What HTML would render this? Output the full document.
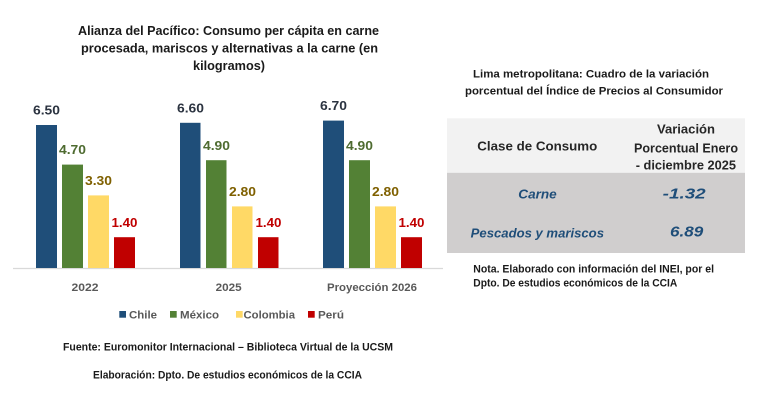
<!DOCTYPE html>
<html><head><meta charset="utf-8"><style>
html,body{margin:0;padding:0;background:#fff;}
svg{display:block;}
text{font-family:"Liberation Sans",sans-serif;font-weight:bold;}
</style></head><body>
<svg width="758" height="409" viewBox="0 0 758 409" xmlns="http://www.w3.org/2000/svg">
<rect width="758" height="409" fill="#fff"/>
<!-- Chart title -->
<g fill="#1a1a1a" font-size="13">
<text x="78" y="35" textLength="301" lengthAdjust="spacingAndGlyphs">Alianza del Pacífico: Consumo per cápita en carne</text>
<text x="81" y="52.5" textLength="297" lengthAdjust="spacingAndGlyphs">procesada, mariscos  y alternativas a la carne (en</text>
<text x="193" y="70" textLength="72" lengthAdjust="spacingAndGlyphs">kilogramos)</text>
</g>
<!-- axis -->
<line x1="13" y1="268.5" x2="443" y2="268.5" stroke="#D9D9D9" stroke-width="1.2"/>
<!-- bars group 1 -->
<rect x="36" y="125" width="21" height="143" fill="#1F4E79"/>
<rect x="62" y="164.6" width="21" height="103.4" fill="#538135"/>
<rect x="88" y="195.4" width="21" height="72.6" fill="#FFD966"/>
<rect x="114" y="237.2" width="21" height="30.8" fill="#C00000"/>
<!-- group 2 -->
<rect x="180" y="122.8" width="20.5" height="145.2" fill="#1F4E79"/>
<rect x="206" y="160.2" width="20.5" height="107.8" fill="#538135"/>
<rect x="232" y="206.4" width="20.5" height="61.6" fill="#FFD966"/>
<rect x="258" y="237.2" width="20.5" height="30.8" fill="#C00000"/>
<!-- group 3 -->
<rect x="323" y="120.6" width="21" height="147.4" fill="#1F4E79"/>
<rect x="349" y="160.2" width="21" height="107.8" fill="#538135"/>
<rect x="375" y="206.4" width="21" height="61.6" fill="#FFD966"/>
<rect x="401" y="237.2" width="21" height="30.8" fill="#C00000"/>
<!-- value labels -->
<g font-size="12.5" text-anchor="middle">
<text x="46.5" y="114.5" fill="#2B3340" textLength="27" lengthAdjust="spacingAndGlyphs">6.50</text>
<text x="72.5" y="154.2" fill="#4E6B30" textLength="27" lengthAdjust="spacingAndGlyphs">4.70</text>
<text x="98.5" y="185" fill="#7F6000" textLength="27" lengthAdjust="spacingAndGlyphs">3.30</text>
<text x="124.5" y="226.8" fill="#C00000" textLength="26" lengthAdjust="spacingAndGlyphs">1.40</text>

<text x="190.5" y="112.3" fill="#2B3340" textLength="27" lengthAdjust="spacingAndGlyphs">6.60</text>
<text x="216.5" y="149.8" fill="#4E6B30" textLength="27" lengthAdjust="spacingAndGlyphs">4.90</text>
<text x="242.5" y="196" fill="#7F6000" textLength="27" lengthAdjust="spacingAndGlyphs">2.80</text>
<text x="268.5" y="226.8" fill="#C00000" textLength="26" lengthAdjust="spacingAndGlyphs">1.40</text>

<text x="333.5" y="110.1" fill="#2B3340" textLength="27" lengthAdjust="spacingAndGlyphs">6.70</text>
<text x="359.5" y="149.8" fill="#4E6B30" textLength="27" lengthAdjust="spacingAndGlyphs">4.90</text>
<text x="385.5" y="196" fill="#7F6000" textLength="27" lengthAdjust="spacingAndGlyphs">2.80</text>
<text x="411.5" y="226.8" fill="#C00000" textLength="26" lengthAdjust="spacingAndGlyphs">1.40</text>
</g>
<!-- categories -->
<g font-size="11" fill="#595959" text-anchor="middle">
<text x="85" y="291" textLength="27" lengthAdjust="spacingAndGlyphs">2022</text>
<text x="228.7" y="291" textLength="26" lengthAdjust="spacingAndGlyphs">2025</text>
<text x="372" y="291" textLength="90" lengthAdjust="spacingAndGlyphs">Proyección 2026</text>
</g>
<!-- legend -->
<rect x="119.3" y="311" width="6.7" height="6.7" fill="#1F4E79"/>
<rect x="170" y="311" width="6.7" height="6.7" fill="#538135"/>
<rect x="236" y="311" width="6.7" height="6.7" fill="#FFD966"/>
<rect x="308" y="311" width="6.7" height="6.7" fill="#C00000"/>
<g font-size="11" fill="#595959">
<text x="129" y="318.5" textLength="28" lengthAdjust="spacingAndGlyphs">Chile</text>
<text x="180" y="318.5" textLength="39" lengthAdjust="spacingAndGlyphs">México</text>
<text x="243.5" y="318.5" textLength="51.5" lengthAdjust="spacingAndGlyphs">Colombia</text>
<text x="318" y="318.5" textLength="26" lengthAdjust="spacingAndGlyphs">Perú</text>
</g>
<!-- footnotes -->
<g font-size="11" fill="#1a1a1a">
<text x="63" y="350.7" textLength="330" lengthAdjust="spacingAndGlyphs">Fuente: Euromonitor Internacional – Biblioteca Virtual de la UCSM</text>
<text x="93" y="378.3" textLength="269" lengthAdjust="spacingAndGlyphs">Elaboración: Dpto. De estudios económicos de la CCIA</text>
</g>
<!-- right panel title -->
<g font-size="11" fill="#1a1a1a">
<text x="473" y="77.3" textLength="236" lengthAdjust="spacingAndGlyphs">Lima metropolitana: Cuadro de la variación</text>
<text x="465" y="94.3" textLength="258" lengthAdjust="spacingAndGlyphs">porcentual del Índice de Precios al Consumidor</text>
</g>
<!-- table -->
<rect x="447" y="118.3" width="298" height="54.5" fill="#F2F2F2"/>
<rect x="447" y="172.8" width="298" height="80.2" fill="#D0CECE"/>
<g font-size="13" fill="#262626">
<text x="477.3" y="150.7" textLength="120" lengthAdjust="spacingAndGlyphs">Clase de Consumo</text>
<text x="657" y="133.3" textLength="58" lengthAdjust="spacingAndGlyphs">Variación</text>
<text x="634" y="152.3" textLength="104" lengthAdjust="spacingAndGlyphs">Porcentual Enero</text>
<text x="635.7" y="169.3" textLength="100.3" lengthAdjust="spacingAndGlyphs">- diciembre 2025</text>
</g>
<g fill="#1F4E79" font-style="italic">
<text x="518.3" y="198.3" font-size="12.5" textLength="38.4" lengthAdjust="spacingAndGlyphs">Carne</text>
<text x="470.7" y="237.7" font-size="12.5" textLength="133.3" lengthAdjust="spacingAndGlyphs">Pescados y mariscos</text>
<text x="662.7" y="198.3" font-size="15" textLength="43" lengthAdjust="spacingAndGlyphs">-1.32</text>
<text x="670" y="236.7" font-size="15" textLength="33.3" lengthAdjust="spacingAndGlyphs">6.89</text>
</g>
<!-- note -->
<g font-size="11" fill="#1a1a1a">
<text x="473.3" y="272.7" textLength="240.7" lengthAdjust="spacingAndGlyphs">Nota. Elaborado con información del INEI, por el</text>
<text x="473.3" y="286.7" textLength="204" lengthAdjust="spacingAndGlyphs">Dpto. De estudios económicos de la CCIA</text>
</g>
</svg>
</body></html>
